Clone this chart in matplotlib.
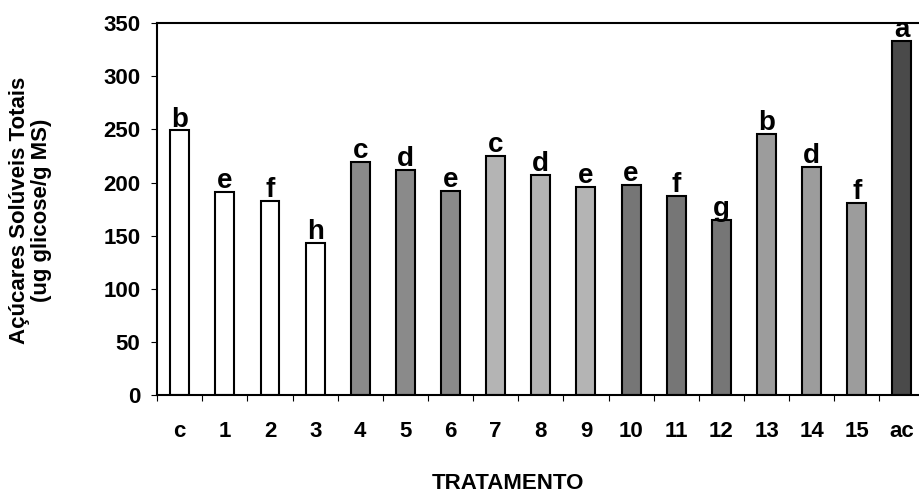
import matplotlib.pyplot as plt
import numpy as np

# data
tratamentos = ["c", "1", "2", "3", "4", "5", "6", "7", "8", "9",
               "10", "11", "12", "13", "14", "15", "ac"]
acucares = [249, 191, 183, 143, 219, 212, 192, 225, 207, 196,
            198, 187, 165, 246, 215, 181, 333]
letras = ["b", "e", "f", "h", "c", "d", "e", "c", "d", "e",
          "e", "f", "g", "b", "d", "f", "a"]
cores = ["white"] * 4 + ["#8a8a8a"] * 3 + ["#b4b4b4"] * 3 + \
        ["#767676"] * 3 + ["#9c9c9c"] * 3 + ["#4a4a4a"]

plt.rcParams["font.family"] = ["Liberation Sans", "DejaVu Sans"]

fig = plt.figure(figsize=(9.19, 4.92), dpi=100)
ax = fig.add_axes([0.171, 0.197, 0.835, 0.756])

x = np.arange(len(tratamentos))
ax.bar(x, acucares, width=0.42, color=cores, edgecolor="black",
       linewidth=1.5, zorder=2)

for xi, v, l in zip(x, acucares, letras):
    ax.text(xi, v - 2, l, ha="center", va="bottom", fontsize=20,
            fontweight="bold")

ax.set_xlim(-0.5, len(tratamentos) - 0.5)
ax.set_ylim(0, 350)
ax.set_yticks(range(0, 351, 50))
ax.set_xticks(x)
ax.set_xticklabels(tratamentos)
ax.set_xticks(np.arange(-0.5, len(tratamentos), 1), minor=True)

ax.tick_params(axis="x", which="major", length=0, pad=19, labelsize=16)
ax.tick_params(axis="x", which="minor", length=4, direction="out", width=0.8)
ax.tick_params(axis="y", length=4, width=0.8, labelsize=16, pad=8)
for lab in ax.get_xticklabels() + ax.get_yticklabels():
    lab.set_fontweight("bold")

for side in ["left", "bottom", "top"]:
    ax.spines[side].set_linewidth(1.5)
ax.spines["right"].set_visible(False)

fig.text(0.033, 0.573, "Açúcares Solúveis Totais\n(ug glicose/g MS)",
         rotation=90, ha="center", va="center", fontsize=16,
         fontweight="bold", linespacing=1.1)
fig.text(0.553, 0.018, "TRATAMENTO", ha="center", va="center",
         fontsize=16, fontweight="bold")

fig.savefig("out.png", dpi=100)
